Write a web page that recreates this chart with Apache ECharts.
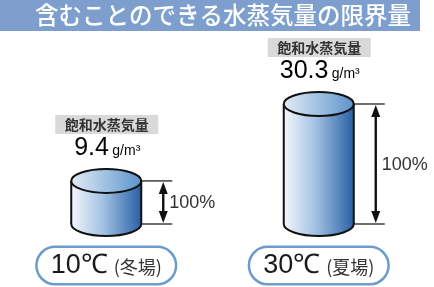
<!DOCTYPE html>
<html>
<head>
<meta charset="utf-8">
<script src="https://cdn.jsdelivr.net/npm/echarts@6/dist/echarts.min.js"></script>
<style>
  html, body { margin: 0; padding: 0; background: #fff; }
  #chart { width: 434px; height: 287px; }
</style>
</head>
<body>
<div id="chart"></div>
<script>
// 温度ごとの飽和水蒸気量
const temps = ['10℃', '30℃']
const seasons = ['冬場', '夏場']
const vapor = [9.4, 30.3]
const shares = ['100%', '100%']
const unit = 'g/m³'
const axisFloor = -2.3

const FONT = '"Noto Sans CJK JP", "Noto Sans", sans-serif'
const NUM = '"Liberation Sans", Arial, sans-serif'

const chart = echarts.init(document.getElementById('chart'))

function renderCylinder(params, api) {
  const i = params.dataIndex
  const top = api.coord([api.value(0), api.value(1)])
  const base = api.coord([api.value(0), axisFloor])
  const cx = top[0]
  const rx = 35
  const ry = 12
  const ax = cx + rx + 22
  const bodyFill = new echarts.graphic.LinearGradient(0, 0, 1, 0, [
    { offset: 0, color: '#f4f7fc' },
    { offset: 0.45, color: '#a3c2e3' },
    { offset: 1, color: '#2860a5' }
  ])
  const lidFill = new echarts.graphic.LinearGradient(0, 0, 1, 0, [
    { offset: 0, color: '#e3edf7' },
    { offset: 1, color: '#5b92cb' }
  ])
  const ink = '#111'
  return {
    type: 'group',
    children: [
      // 底面
      { type: 'ellipse', shape: { cx: cx, cy: base[1], rx: rx, ry: ry },
        style: { fill: bodyFill, stroke: ink, lineWidth: 2 } },
      // 胴体
      { type: 'rect', shape: { x: cx - rx, y: top[1], width: rx * 2, height: base[1] - top[1] },
        style: { fill: bodyFill } },
      { type: 'line', shape: { x1: cx - rx, y1: top[1], x2: cx - rx, y2: base[1] },
        style: { stroke: ink, lineWidth: 2 } },
      { type: 'line', shape: { x1: cx + rx, y1: top[1], x2: cx + rx, y2: base[1] },
        style: { stroke: ink, lineWidth: 2 } },
      // 上面
      { type: 'ellipse', shape: { cx: cx, cy: top[1], rx: rx, ry: ry },
        style: { fill: lidFill, stroke: ink, lineWidth: 2 } },
      // 寸法線
      { type: 'line', shape: { x1: cx + rx, y1: top[1], x2: cx + rx + 31, y2: top[1] },
        style: { stroke: ink, lineWidth: 1.2 } },
      { type: 'line', shape: { x1: cx + rx, y1: base[1], x2: cx + rx + 31, y2: base[1] },
        style: { stroke: ink, lineWidth: 1.2 } },
      { type: 'line', shape: { x1: ax, y1: top[1] + 8, x2: ax, y2: base[1] - 8 },
        style: { stroke: ink, lineWidth: 2.4 } },
      { type: 'polygon', shape: { points: [[ax, top[1] + 1], [ax - 4.5, top[1] + 13], [ax + 4.5, top[1] + 13]] },
        style: { fill: ink } },
      { type: 'polygon', shape: { points: [[ax, base[1] - 1], [ax - 4.5, base[1] - 13], [ax + 4.5, base[1] - 13]] },
        style: { fill: ink } },
      { type: 'text', x: ax + 6, y: (top[1] + base[1]) / 2 + 1,
        style: { text: shares[i], fill: '#333', font: '18px ' + NUM, verticalAlign: 'middle' } },
      // 見出し
      { type: 'rect', shape: { x: cx - 51, y: top[1] - 66, width: 103, height: 19 },
        style: { fill: '#d9d9d9' } },
      { type: 'text', x: cx + 0.5, y: top[1] - 56.5,
        style: { text: '飽和水蒸気量', fill: '#333', font: 'bold 14px ' + FONT,
          align: 'center', verticalAlign: 'middle' } },
      { type: 'text', x: cx + 1, y: top[1] - 33,
        style: {
          text: '{v|' + vapor[i] + '} {u|' + unit + '}',
          align: 'center', verticalAlign: 'middle',
          rich: {
            v: { fontSize: 25, fontFamily: NUM, color: '#1a1a1a' },
            u: { fontSize: 14, fontFamily: NUM, color: '#333', padding: [6, 0, 0, 0] }
          }
        } }
    ]
  }
}

chart.setOption({
  animation: false,
  graphic: [
    { type: 'rect', z: -1, shape: { x: 0, y: 0, width: 420, height: 31 }, style: { fill: '#7e9fcd' } },
    { type: 'text', x: 223, y: 15,
      style: { text: '含むことのできる水蒸気量の限界量', fill: '#fff', font: '500 23.5px ' + FONT,
        align: 'center', verticalAlign: 'middle' } }
  ],
  grid: { left: -2, right: 9, top: 104, bottom: 63 },
  xAxis: {
    type: 'category',
    data: temps,
    axisLine: { show: false },
    axisTick: { show: false },
    axisLabel: {
      margin: 24,
      formatter: (v, i) => '{t|' + v + '}{s|(' + seasons[i] + ')}',
      backgroundColor: '#fff',
      borderColor: '#6d9bcb',
      borderWidth: 2.5,
      borderRadius: 19,
      padding: [4, 13, 4, 13],
      rich: {
        t: { fontSize: 27, fontFamily: NUM, color: '#1a1a1a', padding: [0, 6, 0, 0] },
        s: { fontSize: 18, fontFamily: FONT, color: '#333', padding: [3, 0, 0, 0] }
      }
    }
  },
  yAxis: { type: 'value', min: axisFloor, max: 30.3, show: false },
  series: [{
    type: 'custom',
    clip: false,
    renderItem: renderCylinder,
    data: vapor.map((v, i) => [i, v])
  }]
})
</script>
</body>
</html>
